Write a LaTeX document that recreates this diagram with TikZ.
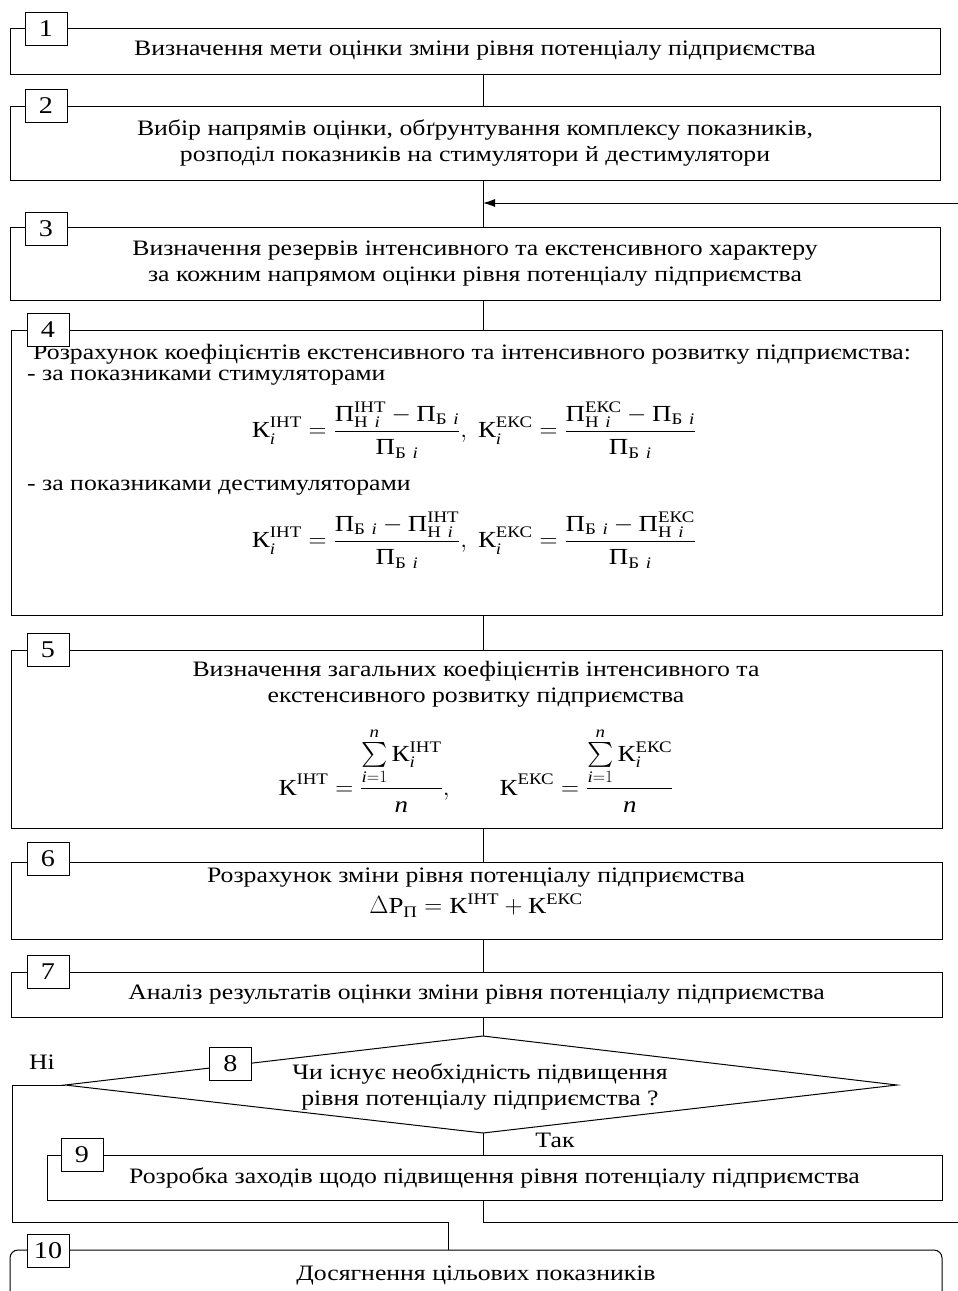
\documentclass[tikz,border=0pt]{standalone}
\usepackage{amsmath}
\usepackage{fontspec}
\setmainfont[FakeStretch=1.17]{Liberation Serif}
\usetikzlibrary{arrows.meta}
\newcommand\myi{\textit{i}}
\newcommand\Kc{\text{К}}
\newcommand\Pc{\text{П}}
\newcommand\PHi[1]{\Pc_{\text{Н}\ \myi}^{\text{#1}}}
\newcommand\PBi{\Pc_{\text{Б}\ \myi}}
\begin{document}
\begin{tikzpicture}[x=1pt,y=-1pt,
  blk/.style={draw=black, line width=1pt, inner sep=0pt, align=center,
    font=\fontsize{22}{26}\selectfont},
  tabbox/.style={draw=black, fill=white, line width=1pt, minimum width=42pt,
    minimum height=33pt, inner sep=0pt, font=\fontsize{24}{26}\selectfont},
  txt/.style={inner sep=0pt, align=center, font=\fontsize{22}{26}\selectfont},
  fml/.style={inner sep=0pt, font=\fontsize{23}{28}\selectfont},
  conn/.style={draw=black, line width=1pt}]
\useasboundingbox (0,0) rectangle (958,1291);
\clip (0,0) rectangle (958,1291);
\coordinate (cx) at (483,0);
\coordinate (nx) at (448,0);

% boxes
\node[blk, minimum width=930pt, minimum height=46pt] (b1) at (475,51)
  {Визначення мети оцінки зміни рівня потенціалу підприємства};
\node[blk, minimum width=930pt, minimum height=74pt] (b2) at (475,143)
  {Вибір напрямів оцінки, обґрунтування комплексу показників,\\розподіл показників на стимулятори й дестимулятори};
\node[blk, minimum width=930pt, minimum height=73pt] (b3) at (475,263.5)
  {Визначення резервів інтенсивного та екстенсивного характеру\\за кожним напрямом оцінки рівня потенціалу підприємства};
\node[blk, minimum width=931pt, minimum height=285pt] (b4) at (476.5,472.5) {};
\node[txt, anchor=west] (b4a) at (33,354)
  {Розрахунок коефіцієнтів екстенсивного та інтенсивного розвитку підприємства:};
\node[txt, anchor=west] (b4b) at (27,378) {- за показниками стимуляторами};
\node[fml] (f1) at (474,430)
  {$\displaystyle \Kc_{\myi}^{\text{ІНТ}}=\frac{\PHi{ІНТ}-\PBi}{\PBi},\ \Kc_{\myi}^{\text{ЕКС}}=\frac{\PHi{ЕКС}-\PBi}{\PBi}$};
\node[txt, anchor=west] (b4c) at (27,488) {- за показниками дестимуляторами};
\node[fml] (f2) at (474,540)
  {$\displaystyle \Kc_{\myi}^{\text{ІНТ}}=\frac{\PBi-\PHi{ІНТ}}{\PBi},\ \Kc_{\myi}^{\text{ЕКС}}=\frac{\PBi-\PHi{ЕКС}}{\PBi}$};
\node[blk, minimum width=931pt, minimum height=178pt] (b5) at (476.5,739) {};
\node[txt] (b5a) at (476,684)
  {Визначення загальних коефіцієнтів інтенсивного та\\екстенсивного розвитку підприємства};
\node[fml] (f3) at (476,770)
  {$\displaystyle \Kc^{\text{ІНТ}}=\frac{\sum\limits_{\myi=1}^{\textit{n}}\Kc_{\myi}^{\text{ІНТ}}}{\textit{n}},\qquad
   \Kc^{\text{ЕКС}}=\frac{\sum\limits_{\myi=1}^{\textit{n}}\Kc_{\myi}^{\text{ЕКС}}}{\textit{n}}$};
\node[blk, minimum width=931pt, minimum height=77pt] (b6) at (476.5,900.5) {};
\node[txt] (b6a) at (476,878) {Розрахунок зміни рівня потенціалу підприємства};
\node[fml] (f4) at (476,906)
  {$\Delta\text{Р}_{\Pc}=\Kc^{\text{ІНТ}}+\Kc^{\text{ЕКС}}$};
\node[blk, minimum width=931pt, minimum height=45pt] (b7) at (476.5,994.5)
  {Аналіз результатів оцінки зміни рівня потенціалу підприємства};

% decision
\coordinate (dl) at (65,1085);
\coordinate (dt) at (483,1036);
\coordinate (dr) at (897,1085);
\coordinate (db) at (483,1133);
\draw[conn] (dl) -- (dt) -- (dr) -- (db) -- cycle;
\node[txt] (d8) at (480,1087)
  {Чи існує необхідність підвищення\\рівня потенціалу підприємства ?};

\node[blk, minimum width=895pt, minimum height=45pt] (b9) at (494.5,1177.5)
  {Розробка заходів щодо підвищення рівня потенціалу підприємства};
\node[blk, rounded corners=8pt, minimum width=932pt, minimum height=52pt] (b10) at (476,1276)
  {Досягнення цільових показників};

% connectors
\coordinate (inR) at (958,203);
\coordinate (outR) at (958,1222);
\coordinate (noL) at (12,1222);
\draw[conn] (b1.south -| cx) -- (b2.north -| cx);
\draw[conn] (b2.south -| cx) -- (b3.north -| cx);
\draw[conn, -{Latex[length=12pt,width=8pt]}] (inR) -- (inR -| cx);
\draw[conn] (b3.south -| cx) -- (b4.north -| cx);
\draw[conn] (b4.south -| cx) -- (b5.north -| cx);
\draw[conn] (b5.south -| cx) -- (b6.north -| cx);
\draw[conn] (b6.south -| cx) -- (b7.north -| cx);
\draw[conn] (b7.south -| cx) -- (dt);
\draw[conn] (db) -- (b9.north -| cx);
\draw[conn] (b9.south -| cx) |- (outR);
\draw[conn] (dl) -| (noL) -- (noL -| nx) -- (b10.north -| nx);

\node[txt] (no) at (42,1062) {Ні};
\node[txt] (yes) at (555,1140) {Так};

% number tabs
\node[tabbox] (t1) at (46,28.5) {1};
\node[tabbox] (t2) at (46,105.5) {2};
\node[tabbox] (t3) at (46,228.5) {3};
\node[tabbox] (t4) at (48,330) {4};
\node[tabbox] (t5) at (48,650) {5};
\node[tabbox] (t6) at (48,858.5) {6};
\node[tabbox] (t7) at (48,971.5) {7};
\node[tabbox] (t8) at (230.5,1063.5) {8};
\node[tabbox] (t9) at (82,1155) {9};
\node[tabbox] (t10) at (48,1251) {10};
\end{tikzpicture}
\end{document}
